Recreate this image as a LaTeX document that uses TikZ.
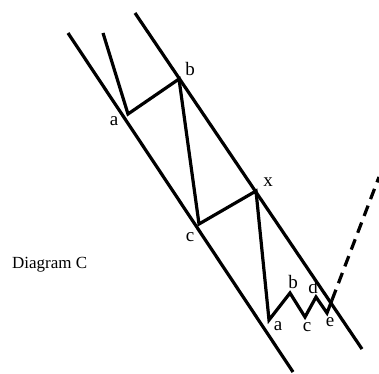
\documentclass[tikz,border=0pt]{standalone}
\usepackage{fontspec}
\setmainfont{Liberation Serif}
\begin{document}
\begin{tikzpicture}[x=1pt,y=-1pt,
  chan/.style={line width=3.2pt},
  wave/.style={line width=3.2pt, line join=miter},
  proj/.style={line width=3.2pt, dash pattern=on 11pt off 7pt},
  lbl/.style={inner sep=0pt, font=\fontsize{19}{21}\selectfont},
  title/.style={inner sep=0pt, anchor=west, font=\fontsize{17}{19}\selectfont}]
\useasboundingbox (0,0) rectangle (379,373);
% channel lines
\coordinate (l1s) at (68,33);
\coordinate (l1e) at (293,372);
\coordinate (l2s) at (135,13);
\coordinate (l2e) at (362,349);
\draw[chan] (l1s) -- (l1e);
\draw[chan] (l2s) -- (l2e);
% wave points
\coordinate (w0) at (103,33);
\coordinate (pa) at (128,114);
\coordinate (pb) at (179,79);
\coordinate (pc) at (199,224);
\coordinate (px) at (256,191);
\coordinate (qa) at (269,320);
\coordinate (qb) at (290,293);
\coordinate (qc) at (305,317);
\coordinate (qd) at (316,297);
\coordinate (qe) at (327,313);
\coordinate (qf) at (332,300);
\coordinate (top) at (379,177);
\draw[wave] (w0) -- (pa) -- (pb) -- (pc) -- (px) -- (qa) -- (qb) -- (qc) -- (qd) -- (qe) -- (qf);
\draw[proj] (qf) -- (top);
% labels
\node[lbl] (la) at (114,121) {a};
\node[lbl] (lb) at (190,69) {b};
\node[lbl] (lc) at (190,237) {c};
\node[lbl] (lx) at (268,182) {x};
\node[lbl] (la2) at (278,326) {a};
\node[lbl] (lb2) at (293,282) {b};
\node[lbl] (lc2) at (307,327) {c};
\node[lbl] (ld2) at (313,287) {d};
\node[lbl] (le2) at (330,322) {e};
\node[title] (t) at (12,265) {Diagram C};
\end{tikzpicture}
\end{document}
